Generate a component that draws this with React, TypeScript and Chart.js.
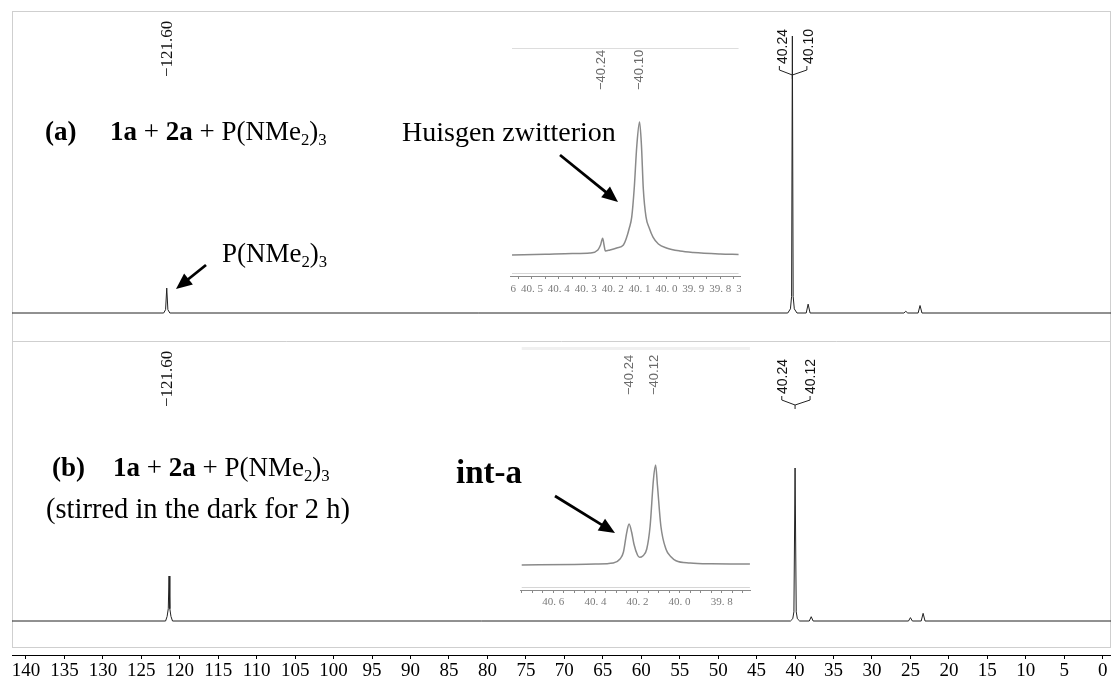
import React, { useEffect, useRef } from "react";
import { Chart, registerables } from "chart.js";

Chart.register(...registerables);

// ---------------- data ----------------
const AXIS_TICKS = [140, 135, 130, 125, 120, 115, 110, 105, 100, 95, 90, 85, 80, 75, 70, 65, 60, 55, 50, 45, 40, 35, 30, 25, 20, 15, 10, 5, 0];
const X_LEFT = 141.82;
const X_RIGHT = -1.08;

// spectrum (a): ppm / relative intensity (% of tallest peak)
const SPEC_A_PPM = [141.82, 122.1, 121.85, 121.7, 121.55, 121.3, 40.95, 40.6, 40.45, 40.35, 40.25, 40.1, 39.75, 38.55, 38.3, 38.05, 25.85, 25.6, 25.35, 24.0, 23.75, 23.5, -1.08];
const SPEC_A_INT = [0, 0, 1.2, 9.0, 1.2, 0, 0, 1.5, 6, 100, 6, 1.5, 0, 0, 3.2, 0, 0, 0.6, 0, 0, 2.7, 0, 0];

// spectrum (b)
const SPEC_B_PPM = [141.82, 121.85, 121.65, 121.5, 121.4, 121.3, 121.15, 120.95, 40.6, 40.3, 40.15, 40.0, 39.85, 39.7, 39.4, 38.15, 37.9, 37.65, 25.25, 25.0, 24.75, 23.6, 23.35, 23.1, -1.08];
const SPEC_B_INT = [0, 0, 3, 8, 29.4, 8, 3, 0, 0, 1.5, 6, 100, 6, 1.5, 0, 0, 2.8, 0, 0, 2.2, 0, 0, 5.0, 0, 0];

// inset (a) expanded region
const INSET_A_PPM = [40.574, 40.45, 40.35, 40.284, 40.255, 40.245, 40.237, 40.232, 40.227, 40.21, 40.185, 40.16, 40.15, 40.138, 40.129, 40.12, 40.11, 40.1, 40.093, 40.086, 40.076, 40.064, 40.05, 40.03, 40.0, 39.95, 39.9, 39.8, 39.732];
const INSET_A_INT = [0, 0.6, 1.1, 1.5, 3.8, 7.5, 12.6, 7.5, 3.0, 3.8, 5.3, 7.5, 12.0, 20.3, 28.6, 49.6, 82.7, 100, 82.7, 49.6, 28.6, 20.3, 13.5, 8.3, 5.3, 3.0, 1.9, 0.8, 0.4];
const INSET_A_TICKS = [40.65, 40.6, 40.55, 40.5, 40.45, 40.4, 40.35, 40.3, 40.25, 40.2, 40.15, 40.1, 40.05, 40.0, 39.95, 39.9, 39.85, 39.8, 39.75, 39.7, 39.65, 39.6];
const INSET_A_LABELED = [40.6, 40.5, 40.4, 40.3, 40.2, 40.1, 40.0, 39.9, 39.8, 39.7];
const INSET_A_PEAKS = [40.24, 40.1];
const INSET_A_PEAK_TEXT = ["\u221240.24", "\u221240.10"];

// inset (b) expanded region
const INSET_B_PPM = [40.75, 40.5, 40.4, 40.315, 40.283, 40.267, 40.251, 40.24, 40.228, 40.217, 40.2, 40.19, 40.175, 40.156, 40.14, 40.124, 40.114, 40.105, 40.089, 40.065, 40.04, 40.017, 39.95, 39.85, 39.666];
const INSET_B_INT = [0, 0.5, 1, 2, 6, 12.7, 32.7, 41, 33, 21, 10, 7.7, 9, 16, 39, 86, 100, 79, 39, 16, 8, 4.3, 2, 1.2, 1];
const INSET_B_TICKS = [40.9, 40.85, 40.8, 40.75, 40.7, 40.65, 40.6, 40.55, 40.5, 40.45, 40.4, 40.35, 40.3, 40.25, 40.2, 40.15, 40.1, 40.05, 40.0, 39.95, 39.9, 39.85, 39.8, 39.75, 39.7, 39.65, 39.6, 39.55, 39.5];
const INSET_B_LABELED = [40.6, 40.4, 40.2, 40.0, 39.8];
const INSET_B_PEAKS = [40.24, 40.12];
const INSET_B_PEAK_TEXT = ["\u221240.24", "\u221240.12"];

// main peak labels
const MAIN_SINGLE_PPM = 121.6;
const MAIN_SINGLE_TEXT = "\u2212121.60";
const MULT_A_PPM = 40.35;
const MULT_A_TEXT = ["40.24", "40.10"];
const MULT_B_PPM = 40.0;
const MULT_B_TEXT = ["40.24", "40.12"];

// ---------------- helpers ----------------
const SERIF = '"Liberation Serif", "Times New Roman", serif';
const SANS = '"Liberation Sans", Arial, sans-serif';
const W = 1111;
const H = 684;
const MAIN_AXIS_H = 29;
const MAIN_AREA_H = H - MAIN_AXIS_H;

function yLimits(areaH: number, basePx: number, fullPx: number) {
  const k = (basePx - fullPx) / 100;
  const min = -(areaH - basePx) / k;
  return { min, max: min + areaH / k };
}

type Seg = { t: string; b?: boolean; sub?: boolean };
function drawRich(ctx: CanvasRenderingContext2D, x: number, y: number, segs: Seg[], size: number) {
  let cx = x;
  ctx.textBaseline = "alphabetic";
  ctx.textAlign = "left";
  for (const s of segs) {
    const fs = s.sub ? size * 0.62 : size;
    ctx.font = `${s.b ? "bold " : ""}${fs}px ${SERIF}`;
    ctx.fillText(s.t, cx, y + (s.sub ? size * 0.17 : 0));
    cx += ctx.measureText(s.t).width;
  }
}

function drawArrow(ctx: CanvasRenderingContext2D, x1: number, y1: number, x2: number, y2: number) {
  const a = Math.atan2(y2 - y1, x2 - x1);
  const head = 16;
  const hw = 7;
  const bx = x2 - head * Math.cos(a);
  const by = y2 - head * Math.sin(a);
  ctx.strokeStyle = "#000";
  ctx.fillStyle = "#000";
  ctx.lineWidth = 2.8;
  ctx.beginPath();
  ctx.moveTo(x1, y1);
  ctx.lineTo(bx + 2 * Math.cos(a), by + 2 * Math.sin(a));
  ctx.stroke();
  ctx.beginPath();
  ctx.moveTo(x2, y2);
  ctx.lineTo(bx + hw * Math.sin(a), by - hw * Math.cos(a));
  ctx.lineTo(bx - hw * Math.sin(a), by + hw * Math.cos(a));
  ctx.closePath();
  ctx.fill();
}

function vLabel(ctx: CanvasRenderingContext2D, text: string, x: number, yBottom: number, font: string, color: string) {
  ctx.save();
  ctx.translate(x, yBottom);
  ctx.rotate(-Math.PI / 2);
  ctx.font = font;
  ctx.fillStyle = color;
  ctx.textAlign = "left";
  ctx.textBaseline = "middle";
  ctx.fillText(text, 0, 0);
  ctx.restore();
}

const FORMULA: Seg[] = [
  { t: "1a", b: true },
  { t: " + " },
  { t: "2a", b: true },
  { t: " + P(NMe" },
  { t: "2", sub: true },
  { t: ")" },
  { t: "3", sub: true },
];
const REAGENT: Seg[] = [{ t: "P(NMe" }, { t: "2", sub: true }, { t: ")" }, { t: "3", sub: true }];

const mainDecor = {
  id: "nmrDecor",
  beforeDatasetsDraw(chart: any) {
    const ctx: CanvasRenderingContext2D = chart.ctx;
    ctx.save();
    ctx.strokeStyle = "#cfcfcf";
    ctx.lineWidth = 1;
    ctx.strokeRect(12.5, 11.5, 1098, 636);
    ctx.beginPath();
    ctx.moveTo(12, 341.5);
    ctx.lineTo(1111, 341.5);
    ctx.stroke();
    ctx.restore();
  },
  afterDraw(chart: any) {
    const ctx: CanvasRenderingContext2D = chart.ctx;
    const xs = chart.scales.x;
    ctx.save();
    ctx.fillStyle = "#000";
    const TS = 27;
    // panel (a)
    drawRich(ctx, 45, 140, [{ t: "(a)", b: true }], TS);
    drawRich(ctx, 110, 140, FORMULA, TS);
    drawRich(ctx, 222, 262, REAGENT, TS);
    drawRich(ctx, 402, 141, [{ t: "Huisgen zwitterion" }], 28);
    // panel (b)
    drawRich(ctx, 52, 476, [{ t: "(b)", b: true }], TS);
    drawRich(ctx, 113, 476, FORMULA, TS);
    drawRich(ctx, 46, 518, [{ t: "(stirred in the dark for 2 h)" }], 28.5);
    ctx.font = `bold 33px ${SERIF}`;
    ctx.textAlign = "right";
    ctx.fillText("int-a", 522, 483);

    // arrows
    drawArrow(ctx, 206, 265, 176, 289);
    drawArrow(ctx, 560, 155, 618, 202);
    drawArrow(ctx, 555, 496, 615, 533);

    // single-peak labels
    const sx = xs.getPixelForValue(MAIN_SINGLE_PPM);
    vLabel(ctx, MAIN_SINGLE_TEXT, sx, 77, `17px ${SERIF}`, "#111");
    vLabel(ctx, MAIN_SINGLE_TEXT, sx, 407, `17px ${SERIF}`, "#111");

    // multiplet labels
    const mult = (jx: number, jy: number, texts: string[], lx: number[], hx: number[], bottom: number) => {
      vLabel(ctx, texts[0], lx[0], bottom, `14px ${SANS}`, "#111");
      vLabel(ctx, texts[1], lx[1], bottom, `14px ${SANS}`, "#111");
      ctx.strokeStyle = "#222";
      ctx.lineWidth = 1;
      ctx.beginPath();
      for (const h of hx) {
        ctx.moveTo(h, bottom + 2);
        ctx.lineTo(h, bottom + 6);
        ctx.lineTo(jx, jy);
      }
      ctx.moveTo(jx, jy);
      ctx.lineTo(jx, jy + 4);
      ctx.stroke();
    };
    const ja = xs.getPixelForValue(MULT_A_PPM);
    mult(ja, 75, MULT_A_TEXT, [ja - 9.5, ja + 17], [ja - 13, ja + 14.5], 64);
    const jb = xs.getPixelForValue(MULT_B_PPM);
    mult(jb, 405, MULT_B_TEXT, [jb - 11.5, jb + 16], [jb - 13.3, jb + 15], 394);
    ctx.restore();
  },
};

// ---------------- inset ----------------
type InsetCfg = {
  clipLeft: number;
  clipWidth: number;
  top: number;
  height: number;
  canvasLeft: number;
  canvasWidth: number;
  xLeft: number;
  xRight: number;
  axisH: number;
  tickPad: number;
  basePx: number;
  fullPx: number;
  ppm: number[];
  int: number[];
  ticks: number[];
  labeled: number[];
  peaks: number[];
  peakText: string[];
  labelBottom: number;
  topLineY: number;
  topLineW: number;
  topLineColor: string;
  lightLineY: number;
};

const INSET_A: InsetCfg = {
  clipLeft: 510,
  clipWidth: 231,
  top: 40,
  height: 266,
  canvasLeft: 480,
  canvasWidth: 300,
  xLeft: 40.693,
  xRight: 39.578,
  axisH: 30,
  tickPad: 4,
  basePx: 255,
  fullPx: 122,
  ppm: INSET_A_PPM,
  int: INSET_A_INT,
  ticks: INSET_A_TICKS,
  labeled: INSET_A_LABELED,
  peaks: INSET_A_PEAKS,
  peakText: INSET_A_PEAK_TEXT,
  labelBottom: 90,
  topLineY: 48.5,
  topLineW: 1,
  topLineColor: "#dddddd",
  lightLineY: 273.5,
};

const INSET_B: InsetCfg = {
  clipLeft: 520,
  clipWidth: 231,
  top: 342,
  height: 277,
  canvasLeft: 490,
  canvasWidth: 300,
  xLeft: 40.9007,
  xRight: 39.4755,
  axisH: 29,
  tickPad: 3,
  basePx: 565,
  fullPx: 465,
  ppm: INSET_B_PPM,
  int: INSET_B_INT,
  ticks: INSET_B_TICKS,
  labeled: INSET_B_LABELED,
  peaks: INSET_B_PEAKS,
  peakText: INSET_B_PEAK_TEXT,
  labelBottom: 395,
  topLineY: 348.5,
  topLineW: 3,
  topLineColor: "#f0f0f0",
  lightLineY: 587.5,
};

function Inset({ cfg }: { cfg: InsetCfg }) {
  const ref = useRef<HTMLCanvasElement>(null);
  useEffect(() => {
    const areaH = cfg.height - cfg.axisH;
    const lim = yLimits(areaH, cfg.basePx - cfg.top, cfg.fullPx - cfg.top);
    const decor = {
      id: "insetDecor",
      afterDraw(chart: any) {
        const ctx: CanvasRenderingContext2D = chart.ctx;
        const xs = chart.scales.x;
        const x0 = xs.getPixelForValue(cfg.ppm[0]);
        const x1 = xs.getPixelForValue(cfg.ppm[cfg.ppm.length - 1]);
        ctx.save();
        ctx.strokeStyle = cfg.topLineColor;
        ctx.lineWidth = cfg.topLineW;
        ctx.beginPath();
        ctx.moveTo(x0, cfg.topLineY - cfg.top);
        ctx.lineTo(x1, cfg.topLineY - cfg.top);
        ctx.stroke();
        ctx.strokeStyle = "#d6d6d6";
        ctx.lineWidth = 1;
        ctx.beginPath();
        ctx.moveTo(x0, cfg.lightLineY - cfg.top);
        ctx.lineTo(x1, cfg.lightLineY - cfg.top);
        ctx.stroke();
        cfg.peaks.forEach((p, i) => {
          vLabel(ctx, cfg.peakText[i], xs.getPixelForValue(p), cfg.labelBottom - cfg.top, `13px ${SANS}`, "#6a6a6a");
        });
        ctx.restore();
      },
    };
    const chart = new Chart(ref.current as HTMLCanvasElement, {
      type: "line",
      data: {
        datasets: [
          {
            data: cfg.ppm.map((x, i) => ({ x, y: cfg.int[i] })),
            borderColor: "#8a8a8a",
            borderWidth: 1.5,
            pointRadius: 0,
            cubicInterpolationMode: "monotone",
            fill: false,
          },
        ],
      },
      options: {
        animation: false,
        responsive: false,
        devicePixelRatio: 1,
        layout: { padding: 0 },
        plugins: { legend: { display: false }, tooltip: { enabled: false }, title: { display: false } },
        events: [],
        scales: {
          x: {
            type: "linear",
            reverse: true,
            min: cfg.xRight,
            max: cfg.xLeft,
            afterBuildTicks: (s: any) => {
              s.ticks = cfg.ticks.map((v) => ({ value: v }));
            },
            afterFit: (s: any) => {
              s.height = cfg.axisH;
              s.paddingLeft = 0;
              s.paddingRight = 0;
            },
            ticks: {
              autoSkip: false,
              maxRotation: 0,
              minRotation: 0,
              padding: cfg.tickPad,
              color: "#7a7a7a",
              font: { family: SERIF, size: 11 },
              callback: (v: any) => (cfg.labeled.includes(v) ? Number(v).toFixed(1).replace(".", ". ") : ""),
            },
            grid: { drawOnChartArea: false, tickLength: 3, color: "#8a8a8a", lineWidth: 1 },
            border: { display: true, color: "#8a8a8a", width: 1 },
          },
          y: { type: "linear", display: false, min: lim.min, max: lim.max },
        },
      } as any,
      plugins: [decor],
    });
    return () => chart.destroy();
  }, [cfg]);
  return (
    <div
      style={{
        position: "absolute",
        left: cfg.clipLeft,
        top: cfg.top,
        width: cfg.clipWidth,
        height: cfg.height,
        overflow: "hidden",
      }}
    >
      <canvas
        ref={ref}
        width={cfg.canvasWidth}
        height={cfg.height}
        style={{
          position: "absolute",
          left: cfg.canvasLeft - cfg.clipLeft,
          top: 0,
          width: cfg.canvasWidth,
          height: cfg.height,
        }}
      />
    </div>
  );
}

// ---------------- main ----------------
function MainSpectrum() {
  const ref = useRef<HTMLCanvasElement>(null);
  useEffect(() => {
    const la = yLimits(MAIN_AREA_H, 313, 36);
    const lb = yLimits(MAIN_AREA_H, 621, 468);
    const chart = new Chart(ref.current as HTMLCanvasElement, {
      type: "line",
      data: {
        datasets: [
          {
            data: SPEC_A_PPM.map((x, i) => ({ x, y: SPEC_A_INT[i] })),
            yAxisID: "ya",
            borderColor: "#222",
            borderWidth: 1,
            pointRadius: 0,
            tension: 0,
            fill: false,
          },
          {
            data: SPEC_B_PPM.map((x, i) => ({ x, y: SPEC_B_INT[i] })),
            yAxisID: "yb",
            borderColor: "#222",
            borderWidth: 1,
            pointRadius: 0,
            tension: 0,
            fill: false,
          },
        ],
      },
      options: {
        animation: false,
        responsive: false,
        devicePixelRatio: 1,
        layout: { padding: { left: 12, right: 0, top: 0, bottom: 0 } },
        plugins: { legend: { display: false }, tooltip: { enabled: false }, title: { display: false } },
        events: [],
        scales: {
          x: {
            type: "linear",
            reverse: true,
            min: X_RIGHT,
            max: X_LEFT,
            afterBuildTicks: (s: any) => {
              s.ticks = AXIS_TICKS.map((v) => ({ value: v }));
            },
            afterFit: (s: any) => {
              s.height = MAIN_AXIS_H;
              s.paddingLeft = 0;
              s.paddingRight = 0;
            },
            ticks: {
              autoSkip: false,
              maxRotation: 0,
              minRotation: 0,
              padding: 1,
              color: "#000",
              font: { family: SERIF, size: 19 },
              callback: (v: any) => String(v),
            },
            grid: { drawOnChartArea: false, tickLength: 4, color: "#000", lineWidth: 1 },
            border: { display: true, color: "#000", width: 1 },
          },
          ya: { type: "linear", display: false, min: la.min, max: la.max },
          yb: { type: "linear", display: false, min: lb.min, max: lb.max },
        },
      } as any,
      plugins: [mainDecor],
    });
    return () => chart.destroy();
  }, []);
  return <canvas ref={ref} width={W} height={H} style={{ position: "absolute", left: 0, top: 0, width: W, height: H }} />;
}

export default function App() {
  return (
    <div style={{ position: "absolute", left: 0, top: 0, width: W, height: H, background: "#fff", overflow: "hidden" }}>
      <MainSpectrum />
      <Inset cfg={INSET_A} />
      <Inset cfg={INSET_B} />
    </div>
  );
}
